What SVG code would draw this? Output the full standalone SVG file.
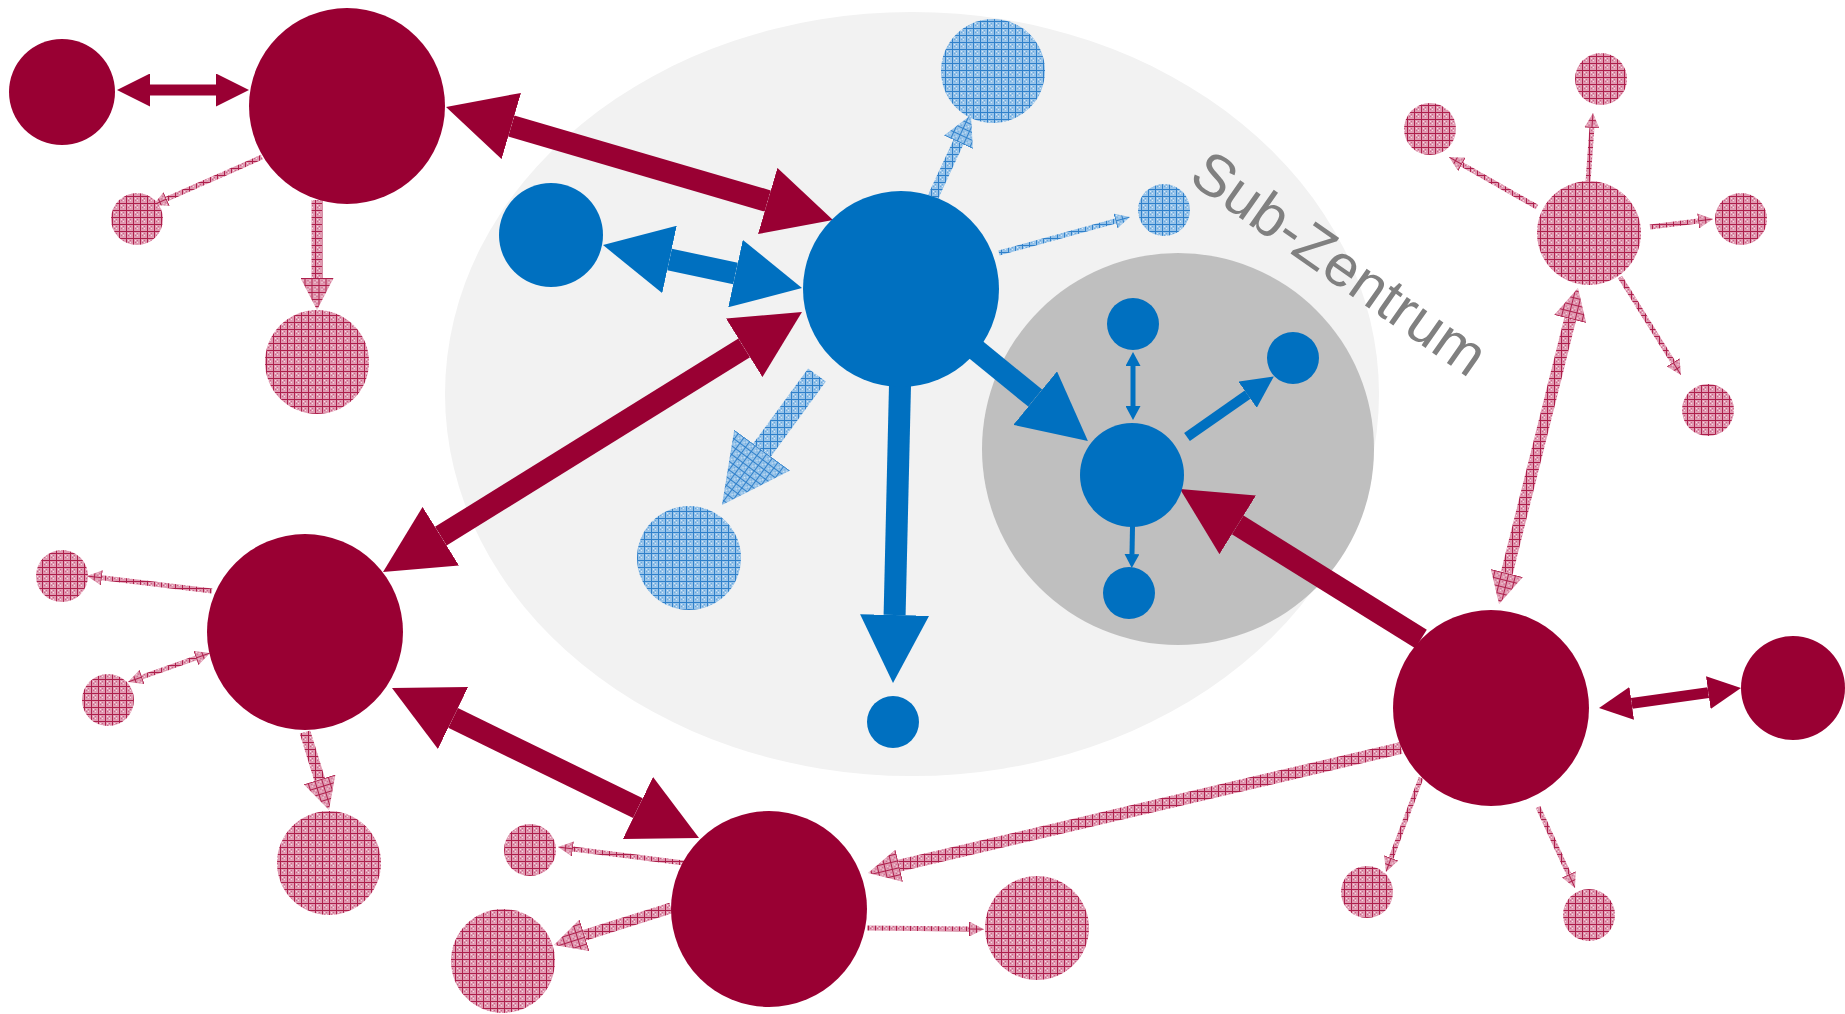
<svg xmlns="http://www.w3.org/2000/svg" width="1845" height="1014" viewBox="0 0 1845 1014">
<style>
.red{fill:#990033}
.blue{fill:#0070c0}
.pink{fill:url(#pinkPat)}
.lblue{fill:url(#bluePat)}
.c{fill:none;stroke-linecap:butt}
.sr{stroke:#990033}
.sb{stroke:#0070c0}
.sp{stroke:url(#pinkPat)}
.sl{stroke:url(#bluePat)}
.wL{stroke-width:22}
.wM{stroke-width:11}
.wS{stroke-width:5}
.lbl{font-family:"Liberation Sans",Arial,sans-serif;font-size:59px;fill:#808080}
</style>
<defs>
<pattern id="pinkPat" patternUnits="userSpaceOnUse" width="7" height="7">
<rect width="7" height="7" fill="#e09ab1"/>
<rect x="2" y="2" width="1" height="1" fill="#f6dbe4"/><rect x="4" y="4" width="1" height="1" fill="#f6dbe4"/><rect x="2" y="4" width="1" height="1" fill="#c9628a"/><rect x="4" y="2" width="1" height="1" fill="#c9628a"/>
<rect x="0" y="0" width="7" height="1" fill="#ad1f4c"/><rect x="0" y="0" width="1" height="7" fill="#ad1f4c"/>
</pattern>
<pattern id="bluePat" patternUnits="userSpaceOnUse" width="7" height="7">
<rect width="7" height="7" fill="#97c3e9"/>
<rect x="2" y="2" width="1" height="1" fill="#d6e8f7"/><rect x="4" y="4" width="1" height="1" fill="#d6e8f7"/><rect x="2" y="4" width="1" height="1" fill="#6aa8dc"/><rect x="4" y="2" width="1" height="1" fill="#6aa8dc"/>
<rect x="0" y="0" width="7" height="1" fill="#2f80ca"/><rect x="0" y="0" width="1" height="7" fill="#2f80ca"/>
</pattern>
<marker id="hLr" markerUnits="userSpaceOnUse" viewBox="0 0 68 69" markerWidth="68" markerHeight="69" refX="0" refY="34.5" orient="auto-start-reverse"><path d="M0,0 L68,34.5 L0,69Z" fill="#990033"/></marker>
<marker id="hLb" markerUnits="userSpaceOnUse" viewBox="0 0 68 69" markerWidth="68" markerHeight="69" refX="0" refY="34.5" orient="auto-start-reverse"><path d="M0,0 L68,34.5 L0,69Z" fill="#0070c0"/></marker>
<marker id="hLl" markerUnits="userSpaceOnUse" viewBox="0 0 68 69" markerWidth="68" markerHeight="69" refX="0" refY="34.5" orient="auto-start-reverse"><path d="M0,0 L68,34.5 L0,69Z" fill="url(#bluePat)"/></marker>
<marker id="hMr" markerUnits="userSpaceOnUse" viewBox="0 0 33 33" markerWidth="33" markerHeight="33" refX="0" refY="16.5" orient="auto-start-reverse"><path d="M0,0 L33,16.5 L0,33Z" fill="#990033"/></marker>
<marker id="hMb" markerUnits="userSpaceOnUse" viewBox="0 0 32 32" markerWidth="32" markerHeight="32" refX="0" refY="16" orient="auto-start-reverse"><path d="M0,0 L32,16 L0,32Z" fill="#0070c0"/></marker>
<marker id="hMp" markerUnits="userSpaceOnUse" viewBox="0 0 32 33" markerWidth="32" markerHeight="33" refX="0" refY="16.5" orient="auto-start-reverse"><path d="M0,0 L32,16.5 L0,33Z" fill="url(#pinkPat)"/></marker>
<marker id="hMl" markerUnits="userSpaceOnUse" viewBox="0 0 30 32" markerWidth="30" markerHeight="32" refX="0" refY="16" orient="auto-start-reverse"><path d="M0,0 L30,16 L0,32Z" fill="url(#bluePat)"/></marker>
<marker id="hSp" markerUnits="userSpaceOnUse" viewBox="0 0 15 15" markerWidth="15" markerHeight="15" refX="0" refY="7.5" orient="auto-start-reverse"><path d="M0,0 L15,7.5 L0,15Z" fill="url(#pinkPat)"/></marker>
<marker id="hSb" markerUnits="userSpaceOnUse" viewBox="0 0 14 15" markerWidth="14" markerHeight="15" refX="0" refY="7.5" orient="auto-start-reverse"><path d="M0,0 L14,7.5 L0,15Z" fill="#0070c0"/></marker>
<marker id="hSl" markerUnits="userSpaceOnUse" viewBox="0 0 15 15" markerWidth="15" markerHeight="15" refX="0" refY="7.5" orient="auto-start-reverse"><path d="M0,0 L15,7.5 L0,15Z" fill="url(#bluePat)"/></marker>
</defs>
<rect width="1845" height="1014" fill="#ffffff"/>
<g id="zones">
<ellipse id="zentrum" cx="912" cy="394" rx="467" ry="382" fill="#f2f2f2"/>
<circle id="subzentrum" cx="1178" cy="449" r="196" fill="#bfbfbf"/>
<text class="lbl" transform="translate(1187,181) rotate(35)">Sub-Zentrum</text>
</g>
<g id="connectors">
<path class="c sr wL" d="M511.3,126 L767.7,201" marker-start="url(#hLr)" marker-end="url(#hLr)"/>
<path class="c sb wL" d="M669.5,259.4 L735.5,273.6" marker-start="url(#hLb)" marker-end="url(#hLb)"/>
<path class="c sr wL" d="M440.8,536.2 L744.2,347.8" marker-start="url(#hLr)" marker-end="url(#hLr)"/>
<path class="c sr wL" d="M453.1,717.9 L637.9,808.1" marker-start="url(#hLr)" marker-end="url(#hLr)"/>
<path class="c sb wL" d="M975,349 L1035.2,398.1" marker-end="url(#hLb)"/>
<path class="c sr wL" d="M1421,639 L1237.7,524.9" marker-end="url(#hLr)"/>
<path class="c sl wL" d="M817,375 L762.1,450.1" marker-end="url(#hLl)"/>
<path class="c sb wL" d="M900,385 L894.6,615" marker-end="url(#hLb)"/>
<path class="c sr wM" d="M150,90 L216,90" marker-start="url(#hMr)" marker-end="url(#hMr)"/>
<path class="c sp wM" d="M317,200 L317,278" marker-end="url(#hMp)"/>
<path class="c sr wM" d="M1631.7,703.4 L1708.3,692.6" marker-start="url(#hMr)" marker-end="url(#hMr)"/>
<path class="c sp" stroke-width="12" d="M1506.8,573 L1570.2,319" marker-start="url(#hMp)" marker-end="url(#hMp)"/>
<path class="c sl wM" d="M933,197 L958.4,142.2" marker-end="url(#hMl)"/>
<path class="c sp wM" d="M305,732 L319.6,779.4" marker-end="url(#hMp)"/>
<path class="c sp wM" d="M671,908 L584.5,935.3" marker-end="url(#hMp)"/>
<path class="c sp" stroke-width="12" d="M1401,748 L899.2,865.7" marker-end="url(#hMp)"/>
<path class="c sb" stroke-width="10" d="M1187,437 L1247.6,394.7" marker-end="url(#hMb)"/>
<path class="c sp wS" d="M262,157 L166.7,199" marker-end="url(#hSp)"/>
<path class="c sl wS" d="M999,253 L1115.5,221" marker-end="url(#hSl)"/>
<path class="c sb wS" d="M1133,366 L1133,406" marker-start="url(#hSb)" marker-end="url(#hSb)"/>
<path class="c sb wS" d="M1133,500 L1132,554" marker-end="url(#hSb)"/>
<path class="c sp wS" d="M1588,182 L1591.9,128" marker-end="url(#hSp)"/>
<path class="c sp wS" d="M1537,207 L1462,164.4" marker-end="url(#hSp)"/>
<path class="c sp wS" d="M1650,227 L1698.1,220.9" marker-end="url(#hSp)"/>
<path class="c sp wS" d="M1620,277 L1673.1,362.3" marker-end="url(#hSp)"/>
<path class="c sp wS" d="M212,591 L101.9,577.8" marker-end="url(#hSp)"/>
<path class="c sp wS" d="M195.9,658 L142.1,677" marker-start="url(#hSp)" marker-end="url(#hSp)"/>
<path class="c sp wS" d="M684,863 L572.9,848.9" marker-end="url(#hSp)"/>
<path class="c sp wS" d="M867,928 L969,929" marker-end="url(#hSp)"/>
<path class="c sp wS" d="M1421,778 L1391.2,857.9" marker-end="url(#hSp)"/>
<path class="c sp wS" d="M1538,807 L1568.8,874.3" marker-end="url(#hSp)"/>
</g>
<g id="r1"><circle class="red" cx="62" cy="92" r="53"/></g>
<g id="r2"><circle class="red" cx="347" cy="106" r="98"/></g>
<g id="r3"><circle class="red" cx="305" cy="632" r="98"/></g>
<g id="r4"><circle class="red" cx="769" cy="909" r="98"/></g>
<g id="r5"><circle class="red" cx="1491" cy="708" r="98"/></g>
<g id="r6"><circle class="red" cx="1793" cy="688" r="52"/></g>
<g id="b1"><circle class="blue" cx="901" cy="289" r="98"/></g>
<g id="b2"><circle class="blue" cx="551" cy="235" r="52"/></g>
<g id="b3"><circle class="blue" cx="893" cy="722" r="26"/></g>
<g id="b4"><circle class="blue" cx="1132" cy="475" r="52"/></g>
<g id="b5"><circle class="blue" cx="1133" cy="324" r="26"/></g>
<g id="b6"><circle class="blue" cx="1293" cy="358" r="26"/></g>
<g id="b7"><circle class="blue" cx="1129" cy="593" r="26"/></g>
<g id="lb1"><circle class="lblue" cx="993" cy="71" r="52"/></g>
<g id="lb2"><circle class="lblue" cx="1164" cy="210" r="26"/></g>
<g id="lb3"><circle class="lblue" cx="689" cy="558" r="52"/></g>
<g id="p1"><circle class="pink" cx="137" cy="219" r="26"/></g>
<g id="p2"><circle class="pink" cx="317" cy="362" r="52"/></g>
<g id="p3"><circle class="pink" cx="62" cy="576" r="26"/></g>
<g id="p4"><circle class="pink" cx="108" cy="700" r="26"/></g>
<g id="p5"><circle class="pink" cx="329" cy="863" r="52"/></g>
<g id="p6"><circle class="pink" cx="530" cy="850" r="26"/></g>
<g id="p7"><circle class="pink" cx="503" cy="961" r="52"/></g>
<g id="p8"><circle class="pink" cx="1037" cy="928" r="52"/></g>
<g id="p9"><circle class="pink" cx="1367" cy="892" r="26"/></g>
<g id="p10"><circle class="pink" cx="1589" cy="915" r="26"/></g>
<g id="p11"><circle class="pink" cx="1589" cy="233" r="52"/></g>
<g id="p12"><circle class="pink" cx="1601" cy="79" r="26"/></g>
<g id="p13"><circle class="pink" cx="1430" cy="129" r="26"/></g>
<g id="p14"><circle class="pink" cx="1741" cy="219" r="26"/></g>
<g id="p15"><circle class="pink" cx="1708" cy="410" r="26"/></g>
</svg>
